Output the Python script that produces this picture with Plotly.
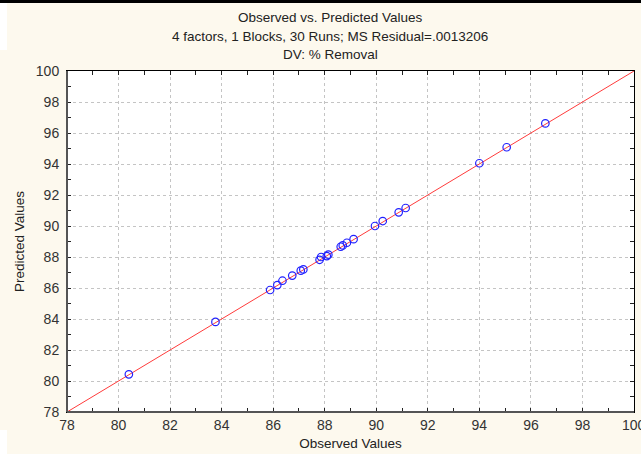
import plotly.graph_objects as go

observed = [80.40, 83.76, 85.88, 86.16, 86.36, 86.74, 87.07, 87.17, 87.80, 87.86,
            88.08, 88.14, 88.62, 88.70, 88.86, 89.12, 89.95, 90.25, 90.87, 91.14,
            94.00, 95.06, 96.56]
predicted = [80.43, 83.81, 85.87, 86.19, 86.47, 86.80, 87.12, 87.20, 87.82, 88.00,
             88.06, 88.15, 88.66, 88.75, 88.92, 89.15, 90.00, 90.32, 90.88, 91.16,
             94.05, 95.08, 96.62]
fit_line = [78, 100]

title_lines = ["Observed vs. Predicted Values",
               "4 factors, 1 Blocks, 30 Runs; MS Residual=.0013206",
               "DV: % Removal"]
edge_tick_label = "100"

font = "Liberation Sans, Arial, sans-serif"

fig = go.Figure()
fig.add_trace(go.Scatter(x=fit_line, y=fit_line, mode="lines",
                         line=dict(color="#ff3b3b", width=1), hoverinfo="skip"))
fig.add_trace(go.Scatter(x=observed, y=predicted, mode="markers",
                         marker=dict(symbol="circle-open", size=7.5, color="#2020ff",
                                     line=dict(width=1.2, color="#2020ff"))))

axis_common = dict(
    range=[78, 100], dtick=2, tick0=78,
    showgrid=True, gridcolor="#c4c4c4", griddash="dot", gridwidth=1,
    zeroline=False, showline=True, linecolor="black", linewidth=1,
    mirror="ticks", ticks="inside", ticklen=4, tickcolor="#222",
    minor=dict(dtick=1, ticks="inside", ticklen=4, tickcolor="#222", showgrid=False),
    tickfont=dict(family=font, size=14, color="#333"),
)

fig.update_layout(
    width=641, height=454,
    margin=dict(l=67, r=7, t=71, b=42),
    paper_bgcolor="#fdf9ee", plot_bgcolor="white",
    showlegend=False,
    font=dict(family=font, color="#222"),
    xaxis=dict(axis_common, title=dict(text="Observed Values", standoff=6,
                                       font=dict(family=font, size=13.5, color="#222"))),
    yaxis=dict(axis_common, ticklabelstandoff=4,
               title=dict(text="Predicted Values", standoff=8,
                          font=dict(family=font, size=13.5, color="#222"))),
)

# title lines
for i, t in enumerate(title_lines):
    fig.add_annotation(text=t, xref="paper", yref="paper", x=(330 - 67) / 567,
                       y=1 + (71 - (18 + 18 * i)) / 341, xanchor="center", yanchor="middle",
                       showarrow=False, font=dict(family=font, size=13.5, color="#222"))

# last x tick label (clipped at the right edge in the original)
fig.add_annotation(text=edge_tick_label, xref="x", yref="paper", x=fit_line[1],
                   y=-(425 - 412) / 341, xanchor="center", yanchor="middle",
                   showarrow=False, font=dict(family=font, size=14, color="#333"))

# thicker gray left & bottom axis lines
fig.add_shape(type="line", xref="paper", yref="paper", x0=0, x1=1, y0=0, y1=0,
              line=dict(color="#555", width=2), layer="above")
fig.add_shape(type="line", xref="paper", yref="paper", x0=0, x1=0, y0=0, y1=1,
              line=dict(color="#555", width=2), layer="above")

# black top band and white left strips of the frame
fig.add_shape(type="rect", xref="paper", yref="paper", x0=-67/567, x1=1 + 7/567,
              y0=1 + (71 - 3) / 341, y1=1 + 71 / 341, fillcolor="black", line_width=0,
              layer="below")
fig.add_shape(type="rect", xref="paper", yref="paper", x0=-67/567, x1=-60/567,
              y0=1 + (71 - 50) / 341, y1=1 + (71 - 3) / 341, fillcolor="white", line_width=0,
              layer="below")
fig.add_shape(type="rect", xref="paper", yref="paper", x0=-67/567, x1=-60/567,
              y0=-42/341, y1=-(430 - 412) / 341, fillcolor="white", line_width=0,
              layer="below")

fig.write_html("out.html")
